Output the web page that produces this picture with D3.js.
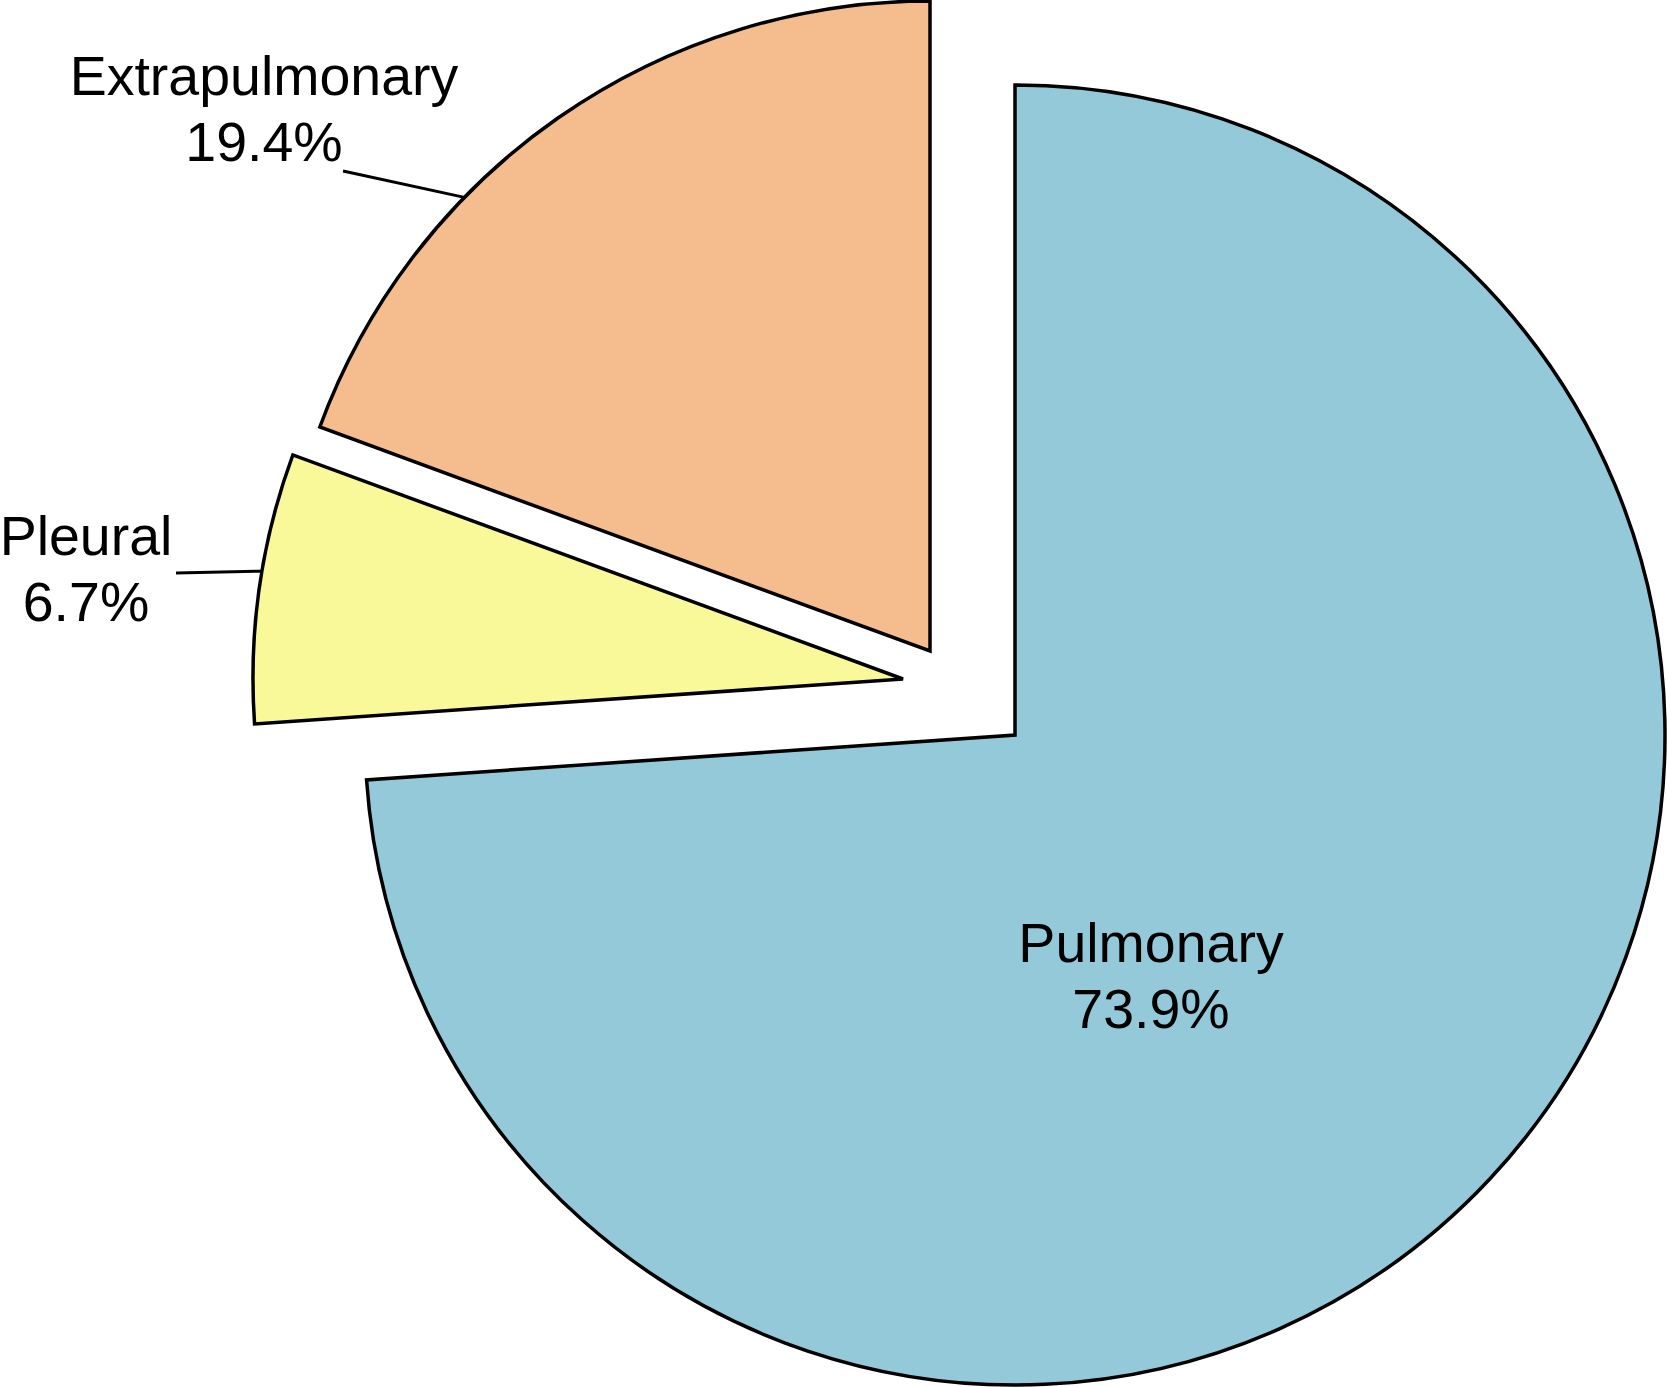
<!DOCTYPE html>
<html>
<head>
<meta charset="utf-8">
<script src="https://cdn.jsdelivr.net/npm/d3@7"></script>
<style>
  html, body { margin: 0; padding: 0; background: #ffffff; }
  svg { display: block; }
  text { font-family: "Liberation Sans", Arial, Helvetica, sans-serif; fill: #000; }
</style>
</head>
<body>
<svg id="chart" width="1667" height="1387"></svg>
<script>
// ---- data ----
const categories = ["Pulmonary", "Pleural", "Extrapulmonary"];
const percentages = [73.9, 6.7, 19.4];
const valueLabels = ["73.9%", "6.7%", "19.4%"];

// ---- styles / layout ----
const colors = ["#93c9d8", "#f9f99a", "#f5bd8e"];
const center = { x: 1015, y: 735 };
const radius = 650;
// slice displacements (explode) in px
const explodeDX = [0, -112, -85];
const explodeDY = [0, -56, -84];
// label anchor positions (first line baseline) and leader settings
const labelX = [1151, 86, 264];
const labelY = [962, 555, 95];
const lineGap = 66;
const leaderFromX = [null, 176, 343];
const leaderFromY = [null, 573, 171];
const leaderFrac = [null, 0.56, 0.345]; // where along the slice's arc the leader meets it

const svg = d3.select("#chart");

const pie = d3.pie().sort(null).value(d => d.value).startAngle(0).endAngle(2 * Math.PI);
const data = categories.map((c, i) => ({ name: c, value: percentages[i], label: valueLabels[i], i }));
const arcs = pie(data);
const arcGen = d3.arc().innerRadius(0).outerRadius(radius);

const g = svg.append("g").attr("transform", `translate(${center.x},${center.y})`);

g.selectAll("path.slice")
  .data(arcs)
  .join("path")
  .attr("class", "slice")
  .attr("transform", d => `translate(${explodeDX[d.data.i]},${explodeDY[d.data.i]})`)
  .attr("d", arcGen)
  .attr("fill", d => colors[d.data.i])
  .attr("stroke", "#000")
  .attr("stroke-width", 3.5)
  .attr("stroke-linejoin", "miter");

// leader lines
arcs.forEach(d => {
  const i = d.data.i;
  if (leaderFrac[i] == null) return;
  const a = d.startAngle + (d.endAngle - d.startAngle) * leaderFrac[i];
  const ex = center.x + explodeDX[i] + radius * Math.sin(a);
  const ey = center.y + explodeDY[i] - radius * Math.cos(a);
  svg.append("line")
    .attr("x1", leaderFromX[i]).attr("y1", leaderFromY[i])
    .attr("x2", ex).attr("y2", ey)
    .attr("stroke", "#000")
    .attr("stroke-width", 3);
});

// labels
arcs.forEach(d => {
  const i = d.data.i;
  const t = svg.append("text")
    .attr("text-anchor", "middle")
    .attr("font-size", 55.5);
  t.append("tspan").attr("x", labelX[i]).attr("y", labelY[i]).text(d.data.name);
  t.append("tspan").attr("x", labelX[i]).attr("y", labelY[i] + lineGap).text(d.data.label);
});
</script>
</body>
</html>
